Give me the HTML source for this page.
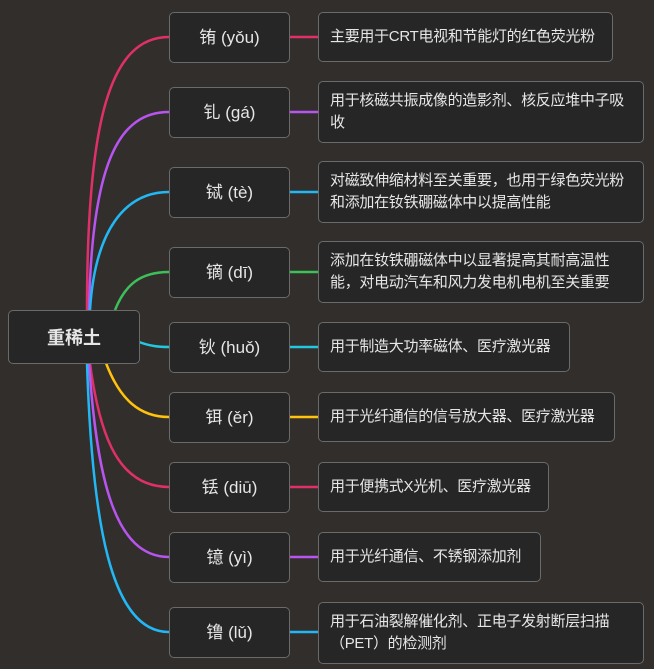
<!DOCTYPE html>
<html><head><meta charset="utf-8"><style>
body{margin:0;width:654px;height:669px;background:#322e2b;position:relative;overflow:hidden;font-family:"Liberation Sans","Noto Sans CJK SC",sans-serif;color:#e6e6e6}
.b{position:absolute;box-sizing:border-box;background:#262626;border:1px solid #6a6a6a;border-radius:5px}
.m{left:169px;width:121px;height:51px;display:flex;align-items:center;justify-content:center;font-size:17px;line-height:20px}
.r{left:318px;display:flex;align-items:center;padding:0 10px 0 11px;font-size:15px;line-height:22px;letter-spacing:-0.3px}
svg{position:absolute;left:0;top:0}
</style></head><body>
<svg width="654" height="669" fill="none" stroke-width="2.5">
<path d="M87 310 C87 120 110 37 169 37" stroke="#e0306a"/>
<path d="M89 310 C92 160 120 112 169 112" stroke="#b855f0"/>
<path d="M90 310 C95 230 125 192 169 192" stroke="#22b8f5"/>
<path d="M115 310 C125 285 140 272 169 272" stroke="#3cc05a"/>
<path d="M139 342 C150 346 158 347 169 347" stroke="#22c8e0"/>
<path d="M106 363 C120 400 140 417 169 417" stroke="#ffc20e"/>
<path d="M90 363 C100 440 120 487 169 487" stroke="#e0306a"/>
<path d="M89 363 C97 480 115 557 169 557" stroke="#b855f0"/>
<path d="M87 363 C92 520 110 632 169 632" stroke="#22b8f5"/>
<path d="M290 37H318" stroke="#e0306a"/>
<path d="M290 112H318" stroke="#b855f0"/>
<path d="M290 192H318" stroke="#22b8f5"/>
<path d="M290 272H318" stroke="#3cc05a"/>
<path d="M290 347H318" stroke="#22c8e0"/>
<path d="M290 417H318" stroke="#ffc20e"/>
<path d="M290 487H318" stroke="#e0306a"/>
<path d="M290 557H318" stroke="#b855f0"/>
<path d="M290 632H318" stroke="#22b8f5"/>
</svg>
<div class="b" style="left:8px;top:310px;width:132px;height:54px;display:flex;align-items:center;justify-content:center;font-size:18px;font-weight:bold">重稀土</div>
<div class="b m" style="top:12px">铕 (yǒu)</div>
<div class="b m" style="top:87px">钆 (gá)</div>
<div class="b m" style="top:167px">铽 (tè)</div>
<div class="b m" style="top:247px">镝 (dī)</div>
<div class="b m" style="top:322px">钬 (huǒ)</div>
<div class="b m" style="top:392px">铒 (ěr)</div>
<div class="b m" style="top:462px">铥 (diū)</div>
<div class="b m" style="top:532px">镱 (yì)</div>
<div class="b m" style="top:607px">镥 (lǔ)</div>
<div class="b r" style="top:12px;width:295px;height:50px">主要用于CRT电视和节能灯的红色荧光粉</div>
<div class="b r" style="top:81px;width:326px;height:62px">用于核磁共振成像的造影剂、核反应堆中子吸收</div>
<div class="b r" style="top:161px;width:326px;height:62px">对磁致伸缩材料至关重要，也用于绿色荧光粉和添加在钕铁硼磁体中以提高性能</div>
<div class="b r" style="top:241px;width:326px;height:62px">添加在钕铁硼磁体中以显著提高其耐高温性能，对电动汽车和风力发电机电机至关重要</div>
<div class="b r" style="top:322px;width:252px;height:50px">用于制造大功率磁体、医疗激光器</div>
<div class="b r" style="top:392px;width:297px;height:50px">用于光纤通信的信号放大器、医疗激光器</div>
<div class="b r" style="top:462px;width:231px;height:50px">用于便携式X光机、医疗激光器</div>
<div class="b r" style="top:532px;width:223px;height:50px">用于光纤通信、不锈钢添加剂</div>
<div class="b r" style="top:602px;width:326px;height:62px">用于石油裂解催化剂、正电子发射断层扫描（PET）的检测剂</div>
</body></html>
